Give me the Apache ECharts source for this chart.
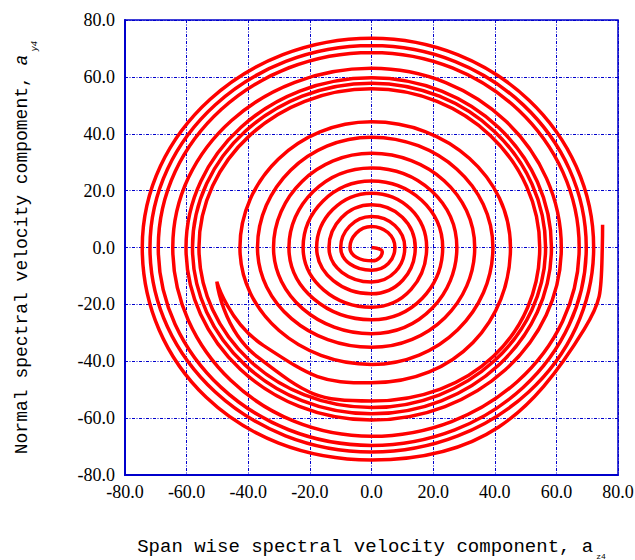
<!DOCTYPE html>
<html><head><meta charset="utf-8">
<script src="https://cdn.jsdelivr.net/npm/echarts@6/dist/echarts.min.js"></script>
<style>html,body{margin:0;padding:0;background:#fff}#c{width:635px;height:560px}</style>
</head><body><div id="c"></div>
<script>
// axis ticks
const xTicks = [-80, -60, -40, -20, 0, 20, 40, 60, 80];
const yTicks = [-80, -60, -40, -20, 0, 20, 40, 60, 80];
const xTitle = 'Span wise spectral velocity component, a';
const xSub = 'z4';
const yTitle = 'Normal spectral velocity compoment, ';
const ySub = 'y4';

// spiral trajectory, read at axis crossings (in drawing order)
const spiralX = [
  0, 3.5, 0.3, -7.0, 0, 7.6, 0, -10.0, 0, 10.8, 0, -13.8, 0, 14.2, 0, -17.8, 0,
  17.9, 0, -22.2, 0, 23.1, 0, -26.8, 0, 27.7, 0, -31.8, 0, 33.5, 0, -37.0, 0,
  39.4, 0, -42.7, 0, 45.1, 0, -35.0, -50.2, -37.0,
  0, 54.6, 0, -56.0, 0, 56.5, 0, -58.1, 0, 58.4, 0, -60.2, 0, 61.6, 0, -64.5,
  0, 67.4, 0, -69.2, 0, 69.7, 0, -71.9, 0, 72.1, 0, -74.4, 0, 69.1, 74.9, 75.0
];
const spiralY = [
  0, -1.5, -4.7, 0, 7.4, 0, -8.0, 0, 10.9, 0, -12.1, 0, 15.0, 0, -16.3, 0, 19.1,
  0, -21.0, 0, 23.4, 0, -25.4, 0, 28.0, 0, -30.3, 0, 33.1, 0, -35.1, 0, 38.8,
  0, -41.1, 0, 44.2, 0, -47.6, -34.5, -12.0, -38.5,
  -54.0, 0, 55.8, 0, -56.3, 0, 57.8, 0, -58.5, 0, 59.7, 0, -60.7, 0, 63.0, 0,
  -66.4, 0, 68.6, 0, -69.6, 0, 71.0, 0, -71.9, 0, 73.6, 0, -74.7, -28.6, 0, 8.0
];

const pts = spiralX.map((x, i) => [x, spiralY[i]]);
const blue = '#0000cc';
const fmt = v => v.toFixed(1);

const chart = echarts.init(document.getElementById('c'), null, {renderer: 'svg'});
chart.setOption({
  animation: false,
  backgroundColor: '#fff',
  grid: {left: 125, right: 17, top: 20, bottom: 85, containLabel: false, outerBoundsMode: 'none',
         show: true, borderColor: blue, borderWidth: 1.5},
  xAxis: {
    type: 'value', min: xTicks[0], max: xTicks[xTicks.length - 1], interval: xTicks[1] - xTicks[0],
    axisLine: {onZero: false, lineStyle: {color: blue, width: 2}},
    axisTick: {show: false},
    axisLabel: {formatter: fmt, fontFamily: 'Liberation Serif', fontSize: 18, color: '#000', margin: 8},
    splitLine: {lineStyle: {color: blue, width: 1, type: [3, 1.5, 1, 1.5]}},
    name: '{m|' + xTitle + '}{s|' + xSub + '}',
    nameLocation: 'middle', nameGap: 59,
    nameTextStyle: {
      rich: {
        m: {fontFamily: 'Liberation Mono', fontSize: 19, color: '#000', lineHeight: 26, verticalAlign: 'middle'},
        s: {fontFamily: 'Liberation Mono', fontSize: 8, color: '#000', lineHeight: 8, verticalAlign: 'bottom', padding: [0, 0, 0, 3]}
      }
    }
  },
  yAxis: {
    type: 'value', min: yTicks[0], max: yTicks[yTicks.length - 1], interval: yTicks[1] - yTicks[0],
    axisLine: {onZero: false, lineStyle: {color: blue, width: 2}},
    axisTick: {show: false},
    axisLabel: {formatter: fmt, fontFamily: 'Liberation Serif', fontSize: 18, color: '#000', margin: 10},
    splitLine: {lineStyle: {color: blue, width: 1, type: [3, 1.5, 1, 1.5]}},
    name: '{m|' + yTitle + '}{i|a}{s|' + ySub + '}',
    nameLocation: 'middle', nameGap: 86,
    nameTextStyle: {
      rich: {
        m: {fontFamily: 'Liberation Mono', fontSize: 18, color: '#000', lineHeight: 34, verticalAlign: 'middle'},
        i: {fontFamily: 'Liberation Mono', fontSize: 18, fontStyle: 'italic', color: '#000', lineHeight: 34, verticalAlign: 'middle'},
        s: {fontFamily: 'Liberation Mono', fontSize: 9, fontStyle: 'italic', color: '#000', lineHeight: 10, verticalAlign: 'bottom', padding: [0, 0, 0, 3]}
      }
    }
  },
  series: [{
    type: 'line', data: pts, showSymbol: false, smooth: 0.55,
    lineStyle: {color: '#ff0000', width: 3.5}, z: 3
  }]
});
</script></body></html>
